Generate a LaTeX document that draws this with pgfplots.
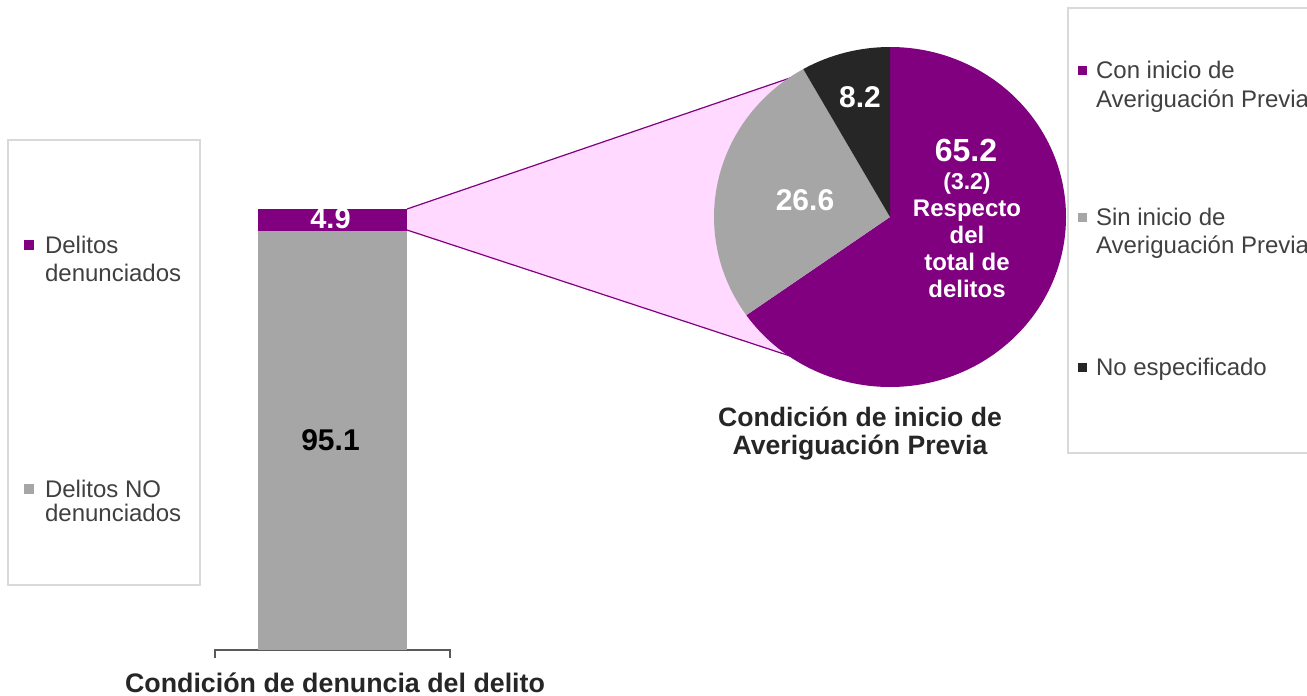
\documentclass[border=0pt]{standalone}
\usepackage{pgfplots}
\pgfplotsset{compat=1.18}
\usepackage{fontspec}
\setmainfont{Liberation Sans}
\definecolor{cpurple}{HTML}{800080}
\definecolor{cgray}{HTML}{A6A6A6}
\definecolor{cdark}{HTML}{262626}
\definecolor{cpink}{HTML}{FFD9FF}
\definecolor{cborder}{HTML}{D9D9D9}
\definecolor{ctext}{HTML}{404040}
\definecolor{ctitle}{HTML}{262626}
\definecolor{caxis}{HTML}{595959}
% bar values (percent)
\def\bA{95.1}\def\bB{4.9}
% pie values (percent)
\def\vA{65.2}\def\vB{26.6}\def\vC{8.2}
\pgfmathsetmacro\aA{90-3.6*\vA}
\pgfmathsetmacro\aB{\aA-3.6*\vB}
\pgfmathsetmacro\aC{\aB-3.6*\vC}
\newcommand{\fs}[1]{\fontsize{#1}{1.2\dimexpr#1\relax}\selectfont}
\begin{document}
\begin{tikzpicture}
\useasboundingbox (0,0) rectangle (653.5pt,-348pt);
\begin{scope}[x=0.5pt,y=-0.5pt]
  \fill[cpink] (407,209) -- (790,78) -- (790,356) -- (407,230) -- cycle;
  \draw[cpurple, line width=0.6pt] (407,209) -- (790,78);
  \draw[cpurple, line width=0.6pt] (407,230) -- (790,356);
\end{scope}
% ---- stacked bar
\begin{axis}[at={(107.5pt,-325pt)}, anchor=south west, scale only axis,
  width=117.5pt, height=220.5pt, xmin=-1, xmax=1, ymin=0, ymax=100,
  axis lines=none, ybar stacked, bar width=74.5pt, clip=false]
  \addplot[fill=cgray, draw=none] coordinates {(0,95.1)};
  \addplot[fill=cpurple, draw=none] coordinates {(0,4.9)};
  \draw[caxis, line width=1pt] ([yshift=-4pt]axis cs:-1,0) -- (axis cs:-1,0) -- (axis cs:1,0) -- ([yshift=-4pt]axis cs:1,0);
  \coordinate (lblA) at (axis cs:0,47.55);
  \coordinate (lblB) at (axis cs:0,97.55);
\end{axis}
\node[font=\bfseries\fs{15pt}, text=black] at ([xshift=-1pt]lblA) {95.1};
\node[font=\bfseries\fs{14.5pt}, text=white] at ([xshift=-1pt,yshift=0.5pt]lblB) {4.9};
% ---- pie
\begin{axis}[at={(445pt,-108.5pt)}, anchor=center, scale only axis,
  width=176pt, height=170pt, xmin=-1, xmax=1, ymin=-1, ymax=1,
  axis lines=none, clip=false]
  \addplot[draw=none] coordinates {(0,0)};
  \fill[cpurple] (axis cs:0,0) -- (axis cs:0,1) arc[start angle=90, end angle=\aA, x radius=88pt, y radius=85pt] -- cycle;
  \fill[cgray] (axis cs:0,0) -- (axis cs:{cos(\aA)},{sin(\aA)}) arc[start angle=\aA, end angle=\aB, x radius=88pt, y radius=85pt] -- cycle;
  \fill[cdark] (axis cs:0,0) -- (axis cs:{cos(\aB)},{sin(\aB)}) arc[start angle=\aB, end angle=\aC, x radius=88pt, y radius=85pt] -- cycle;
\end{axis}
\begin{scope}[x=0.5pt,y=-0.5pt]
  % pie labels
  \node[font=\bfseries\fs{16pt}, text=white] at (966,150) {65.2};
  \node[font=\bfseries\fs{11.5pt}, text=white] at (967,184) {(3.2)};
  \node[font=\bfseries\fs{12pt}, text=white, align=center] at (967,249) {Respecto\\[-1pt]del\\[-1pt]total de\\[-1pt]delitos};
  \node[font=\bfseries\fs{15pt}, text=white] at (805,200) {26.6};
  \node[font=\bfseries\fs{15pt}, text=white] at (860,97) {8.2};
  % titles
  \node[font=\bfseries\fs{13.4pt}, text=ctitle] at (335,683) {Condición de denuncia del delito};
  \node[font=\bfseries\fs{13.3pt}, text=ctitle, align=center] at (860,434) {Condición de inicio de\\[-2pt]Averiguación Previa};
  % left legend
  \draw[cborder, line width=1pt] (8,140) rectangle (200,585);
  \fill[cpurple] (24,240) rectangle (34,250);
  \fill[cgray] (24,484) rectangle (34,494);
  \node[font=\fs{12pt}, text=ctext, anchor=base west] at (38,253) {Delitos};
  \node[font=\fs{12pt}, text=ctext, anchor=base west] at (38,281) {denunciados};
  \node[font=\fs{12pt}, text=ctext, anchor=base west] at (38,497) {Delitos NO};
  \node[font=\fs{12pt}, text=ctext, anchor=base west] at (38,521) {denunciados};
  % right legend
  \draw[cborder, line width=1pt] (1068,8) rectangle (1340,453);
  \fill[cpurple] (1078,66) rectangle (1087,75);
  \fill[cgray] (1078,213) rectangle (1087,222);
  \fill[cdark] (1078,363) rectangle (1087,372);
  \node[font=\fs{12pt}, text=ctext, anchor=base west] at (1089,78) {Con inicio de};
  \node[font=\fs{12pt}, text=ctext, anchor=base west] at (1089,107) {Averiguación Previa};
  \node[font=\fs{12pt}, text=ctext, anchor=base west] at (1089,225) {Sin inicio de};
  \node[font=\fs{12pt}, text=ctext, anchor=base west] at (1089,253) {Averiguación Previa};
  \node[font=\fs{12pt}, text=ctext, anchor=base west] at (1089,375) {No especificado};
\end{scope}
\end{tikzpicture}
\end{document}
